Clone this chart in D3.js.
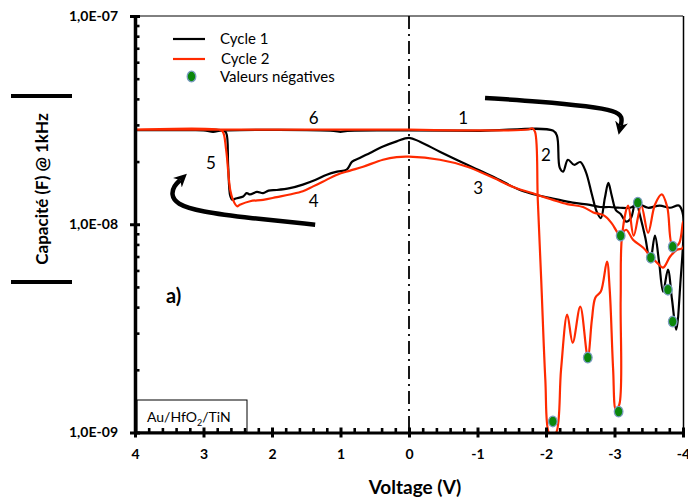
<!DOCTYPE html>
<html><head><meta charset="utf-8">
<script src="https://cdn.jsdelivr.net/npm/d3@7"></script>
<style>
body{margin:0;background:#fff;}
svg{display:block;font-family:Lato,"Open Sans",sans-serif;}
</style></head><body>
<svg id="chart" width="688" height="500"></svg>
<script>
// ---------- data ----------
const voltTicks = [4,3,2,1,0,-1,-2,-3,-4];
const capTicks = [1e-9,1e-8,1e-7];
const capTickLabels = ["1,0E-09","1,0E-08","1,0E-07"];
const seriesNames = ["Cycle 1","Cycle 2","Valeurs négatives"];

// Cycle 1 (black) : [voltage V, capacitance F] in sweep order
const cycle1 = [
 [0,2.82e-8],[-1.04,2.81e-8],[-2.10,2.82e-8],[-2.16,2.66e-8],[-2.20,1.87e-8],[-2.25,1.79e-8],
 [-2.32,2.04e-8],[-2.41,1.93e-8],[-2.50,1.99e-8],[-2.58,1.79e-8],[-2.67,1.39e-8],[-2.74,1.15e-8],
 [-2.80,1.07e-8],[-2.86,1.34e-8],[-2.91,1.58e-8],[-2.96,1.37e-8],[-3.02,1.17e-8],[-3.09,1.12e-8],
 [-3.17,1.03e-8],[-3.24,1.07e-8],[-3.31,1.31e-8],[-3.37,1.11e-8],[-3.45,8.61e-9],[-3.52,6.61e-9],
 [-3.59,8.81e-9],[-3.65,6.61e-9],[-3.71,4.75e-9],[-3.78,6.05e-9],[-3.84,4.34e-9],[-3.90,3.12e-9],
 [-3.96,5.13e-9],[-4.00,1.11e-8],[-3.94,1.23e-8],[-3.81,1.20e-8],[-3.66,1.23e-8],[-3.49,1.20e-8],
 [-3.34,1.25e-8],[-3.23,1.20e-8],[-3.08,1.20e-8],[-2.93,1.21e-8],[-2.79,1.21e-8],[-2.64,1.24e-8],
 [-2.39,1.27e-8],[-2.10,1.33e-8],[-1.91,1.37e-8],[-1.62,1.46e-8],[-1.23,1.69e-8],[-0.85,1.93e-8],
 [-0.45,2.23e-8],[-0.16,2.49e-8],[0,2.60e-8],[0.18,2.50e-8],[0.38,2.36e-8],[0.57,2.20e-8],
 [0.72,2.08e-8],[0.83,2.00e-8],[0.91,1.83e-8],[1.05,1.79e-8],[1.20,1.73e-8],[1.37,1.63e-8],
 [1.55,1.55e-8],[1.74,1.49e-8],[1.93,1.46e-8],[2.05,1.45e-8],[2.13,1.41e-8],[2.22,1.43e-8],
 [2.32,1.39e-8],[2.37,1.41e-8],[2.42,1.36e-8],[2.53,1.33e-8],[2.58,1.31e-8],[2.61,1.37e-8],
 [2.64,1.91e-8],[2.67,2.75e-8],[2.72,2.82e-8],
 [3.40,2.83e-8],[4.00,2.83e-8],[3.00,2.82e-8],[2.86,2.78e-8],[2.72,2.82e-8],[1.10,2.81e-8],
 [1.00,2.78e-8],[0.90,2.81e-8],[0,2.82e-8]
];

// Cycle 2 (red)
const cycle2 = [
 [0,2.85e-8],[-1.74,2.85e-8],[-1.80,2.89e-8],[-1.84,2.78e-8],[-1.88,1.31e-8],[-1.93,5.42e-9],
 [-1.99,1.80e-9],[-2.04,1.0e-9],[-2.09,0.97e-9],[-2.15,1.0e-9],[-2.22,2.01e-9],[-2.31,3.68e-9],
 [-2.39,2.70e-9],[-2.50,4.02e-9],[-2.61,2.31e-9],[-2.67,3.48e-9],[-2.72,4.44e-9],[-2.80,4.75e-9],
 [-2.89,6.61e-9],[-2.93,4.85e-9],[-2.98,2.01e-9],[-3.02,1.29e-9],[-3.07,1.36e-9],[-3.09,4.34e-9],
 [-3.11,8.81e-9],[-3.20,1.23e-8],[-3.28,8.81e-9],[-3.39,1.23e-8],[-3.49,9.10e-9],[-3.59,1.24e-8],
 [-3.69,1.39e-8],[-3.77,1.21e-8],[-3.85,7.80e-9],[-3.94,8.06e-9],[-4.00,1.03e-8],[-4.00,7.71e-9],
 [-3.91,7.54e-9],[-3.81,6.98e-9],[-3.71,6.19e-9],[-3.62,6.54e-9],[-3.52,7.06e-9],[-3.42,7.71e-9],
 [-3.27,8.43e-9],[-3.17,9.41e-9],[-3.08,8.91e-9],[-2.96,1.01e-8],[-2.85,1.10e-8],[-2.69,1.14e-8],
 [-2.54,1.21e-8],[-2.31,1.25e-8],[-2.10,1.31e-8],[-1.77,1.42e-8],[-1.52,1.51e-8],[-1.23,1.67e-8],
 [-0.85,1.89e-8],[-0.45,2.04e-8],[0,2.11e-8],[0.18,2.10e-8],[0.38,2.04e-8],[0.67,1.89e-8],
 [0.86,1.81e-8],[1.05,1.73e-8],[1.26,1.60e-8],[1.40,1.52e-8],[1.55,1.44e-8],[1.74,1.39e-8],
 [1.93,1.35e-8],[2.13,1.31e-8],[2.32,1.29e-8],[2.47,1.24e-8],[2.51,1.22e-8],[2.57,1.31e-8],
 [2.61,1.46e-8],[2.67,2.28e-8],[2.72,2.79e-8],[2.79,2.85e-8],[4.00,2.85e-8],[0,2.85e-8]
];

// negative values markers
const negV = [-2.10,-2.61,-3.06,-3.09,-3.34,-3.53,-3.78,-3.85,-3.85];
const negC = [1.13e-9,2.29e-9,1.26e-9,8.81e-9,1.27e-8,6.91e-9,4.85e-9,3.41e-9,7.80e-9];

// sweep step labels
const stepLabels = ["1","2","3","4","5","6"];
const stepV = [-0.79,-2.0,-1.01,1.39,2.89,1.39];
const stepC = [3.24e-8,2.15e-8,1.50e-8,1.30e-8,1.97e-8,3.24e-8];

// annotation arrows (data coordinates)
const arrow1 = [[-1.11,4.04e-8],[-1.91,3.89e-8],[-2.64,3.68e-8],[-3.01,3.50e-8],[-3.12,3.28e-8],[-3.09,2.97e-8]];
const arrow2 = [[1.37,9.95e-9],[2.32,1.07e-8],[3.05,1.15e-8],[3.40,1.25e-8],[3.47,1.39e-8],[3.43,1.53e-8],[3.34,1.63e-8]];

// ---------- drawing ----------
const svg = d3.select("#chart");
const RED = "#ff2a00";
const x = d3.scaleLinear().domain([4,-4]).range([135,683]);
const y = d3.scaleLog().domain([1e-9,1e-7]).range([432.5,16]);

const defs = svg.append("defs");
defs.append("clipPath").attr("id","clip").append("rect")
  .attr("x",x(4)).attr("y",y(1e-7)).attr("width",x(-4)-x(4)).attr("height",y(1e-9)-y(1e-7));
defs.append("marker").attr("id","ah").attr("viewBox","0 0 10 10")
  .attr("refX",3).attr("refY",5).attr("markerWidth",13).attr("markerHeight",13)
  .attr("markerUnits","userSpaceOnUse").attr("orient","auto")
  .append("path").attr("d","M0,0 L10,5 L0,10 L3,5 z").attr("fill","#000");

// frame top & right
svg.append("line").attr("x1",x(4)).attr("x2",x(-4)).attr("y1",y(1e-7)).attr("y2",y(1e-7))
  .attr("stroke","#000").attr("stroke-width",1);
svg.append("line").attr("x1",x(-4)+0.5).attr("x2",x(-4)+0.5).attr("y1",y(1e-7)).attr("y2",y(1e-9))
  .attr("stroke","#000").attr("stroke-width",1.5);

// dash-dot zero line
svg.append("line").attr("x1",x(0)).attr("x2",x(0)).attr("y1",y(1e-7)).attr("y2",y(1e-9))
  .attr("stroke","#000").attr("stroke-width",1.8).attr("stroke-dasharray","13,5,2,5");

// curves
const line = d3.line().x(d=>x(d[0])).y(d=>y(d[1])).curve(d3.curveCatmullRom.alpha(0.5));
const plot = svg.append("g").attr("clip-path","url(#clip)");
plot.append("path").datum(cycle1).attr("d",line).attr("fill","none").attr("stroke","#000").attr("stroke-width",2.2);
plot.append("path").datum(cycle2).attr("d",line).attr("fill","none").attr("stroke",RED).attr("stroke-width",2.2);

// negative-value markers
plot.selectAll("ellipse.neg").data(negV.map((v,i)=>[v,negC[i]])).join("ellipse").attr("class","neg")
  .attr("cx",d=>x(d[0])).attr("cy",d=>y(d[1])).attr("rx",4.3).attr("ry",5.3)
  .attr("fill","#0b870b").attr("stroke","#7a9cc0").attr("stroke-width",1.3);

// arrows
const aline = d3.line().x(d=>x(d[0])).y(d=>y(d[1])).curve(d3.curveBasis);
svg.append("path").datum(arrow1).attr("d",aline).attr("fill","none").attr("stroke","#000")
  .attr("stroke-width",4.5).attr("marker-end","url(#ah)");
svg.append("path").datum(arrow2).attr("d",aline).attr("fill","none").attr("stroke","#000")
  .attr("stroke-width",4.5).attr("marker-end","url(#ah)");

// step labels
svg.selectAll("text.step").data(stepLabels).join("text").attr("class","step")
  .attr("x",(d,i)=>x(stepV[i])).attr("y",(d,i)=>y(stepC[i])).attr("dy","0.36em")
  .attr("text-anchor","middle").attr("font-size",17).text(d=>d);

// box
const bx = svg.append("g");
bx.append("rect").attr("x",137).attr("y",400).attr("width",110).attr("height",32)
  .attr("fill","#fff").attr("stroke","#000").attr("stroke-width",1);
const bt = bx.append("text").attr("x",147).attr("y",422).attr("font-size",14);
bt.append("tspan").text("Au/HfO");
bt.append("tspan").attr("font-size",9).attr("dy",4).text("2");
bt.append("tspan").attr("dy",-4).text("/TiN");

// "a)"
svg.append("text").attr("x",166).attr("y",303).attr("font-size",20).attr("font-weight","bold").text("a)");

// axes
const xAxis = svg.append("g").attr("transform",`translate(0,${y(1e-9)})`)
  .call(d3.axisBottom(x).tickValues(voltTicks).tickFormat(d=>`${d}`).tickSizeOuter(0));
xAxis.select(".domain").attr("stroke-width",3.2);
xAxis.selectAll(".tick line").attr("y1",-5).attr("y2",5).attr("stroke-width",3);
xAxis.selectAll(".tick text").attr("y",17).attr("font-size",14).attr("font-weight","bold")
  .attr("font-family","Lato,sans-serif").attr("dy","0.71em");
const minorX = d3.range(-40,41,2).filter(v=>v%10!==0).map(v=>v/10);
svg.append("g").attr("transform",`translate(0,${y(1e-9)})`)
  .call(d3.axisBottom(x).tickValues(minorX).tickSize(-4.5).tickFormat(""))
  .call(g=>g.select(".domain").remove())
  .selectAll(".tick line").attr("stroke-width",2.6);

const yAxis = svg.append("g").attr("transform",`translate(${x(4)},0)`)
  .call(d3.axisLeft(y).tickValues(capTicks).tickFormat((d,i)=>capTickLabels[i]).tickSizeOuter(0));
yAxis.select(".domain").attr("stroke-width",3.5);
yAxis.selectAll(".tick line").attr("x1",-5).attr("x2",5).attr("stroke-width",3);
yAxis.selectAll(".tick text").attr("x",-17).attr("font-size",14).attr("font-weight","bold")
  .attr("font-family","Lato,sans-serif");
const minorY = [];
[1e-9,1e-8].forEach(b=>{for(let k=2;k<=9;k++) minorY.push(k*b);});
svg.append("g").attr("transform",`translate(${x(4)},0)`)
  .call(d3.axisLeft(y).tickValues(minorY).tickSize(-4.5).tickFormat(""))
  .call(g=>g.select(".domain").remove())
  .selectAll(".tick line").attr("stroke-width",2.6);

// axis titles
svg.append("text").attr("x",415).attr("y",494).attr("text-anchor","middle")
  .attr("font-size",19).attr("font-weight","bold").text("Voltage (V)");
svg.append("text").attr("transform","translate(48,189) rotate(-90)").attr("text-anchor","middle")
  .attr("font-size",17).attr("font-weight","bold").text("Capacité (F) @ 1kHz");
svg.append("line").attr("x1",11).attr("x2",72).attr("y1",96).attr("y2",96).attr("stroke","#000").attr("stroke-width",4);
svg.append("line").attr("x1",11).attr("x2",72).attr("y1",282).attr("y2",282).attr("stroke","#000").attr("stroke-width",4);

// legend
const lg = svg.append("g");
lg.append("line").attr("x1",173).attr("x2",205).attr("y1",39).attr("y2",39).attr("stroke","#000").attr("stroke-width",2.2);
lg.append("line").attr("x1",173).attr("x2",205).attr("y1",59).attr("y2",59).attr("stroke",RED).attr("stroke-width",2.2);
lg.append("ellipse").attr("cx",191.5).attr("cy",76.5).attr("rx",4.3).attr("ry",5.3)
  .attr("fill","#0b870b").attr("stroke","#7a9cc0").attr("stroke-width",1.3);
lg.selectAll("text").data(seriesNames).join("text")
  .attr("x",(d,i)=>i===1?221:220).attr("y",(d,i)=>[44,63.5,82][i]).attr("font-size",15).text(d=>d);
</script>
</body></html>
